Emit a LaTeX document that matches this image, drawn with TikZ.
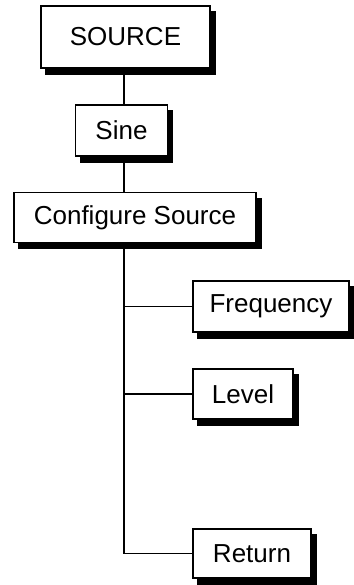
\documentclass[tikz,border=0pt]{standalone}
\usepackage{fontspec}
\setmainfont{Liberation Sans}
\usetikzlibrary{positioning, shadows}
\tikzset{
  menubox/.style={rectangle, draw=black, fill=white, line width=1.6pt,
    inner sep=0pt, font=\fontsize{26}{30}\selectfont,
    copy shadow={shadow xshift=5pt, shadow yshift=-6pt, fill=black, draw=black}},
  line/.style={line width=1.6pt, color=black}
}

\begin{document}
\begin{tikzpicture}[x=1pt, y=1pt]
    \useasboundingbox (0,0) rectangle (353,-585);

    % Menu levels
    \node[menubox, minimum width=169pt, minimum height=62pt] (source) at (125.5,-37) {SOURCE};
    \node[menubox, minimum width=92pt, minimum height=51pt] (sine) at (121.5,-130.5) {Sine};
    \node[menubox, minimum width=242pt, minimum height=50pt] (config) at (135,-217.5) {Configure Source};

    % Submenu items
    \node[menubox, minimum width=156pt, minimum height=51pt] (freq) at (271,-306.5) {Frequency};
    \node[menubox, minimum width=100pt, minimum height=50pt] (level) at (243,-394) {Level};
    \node[menubox, minimum width=118pt, minimum height=49pt] (ret) at (252,-553.5) {Return};

    % Trunk
    \coordinate (trunk) at (124,-553.5);
    \draw[line] (source.south -| trunk) -- (sine.north -| trunk);
    \draw[line] (sine.south -| trunk) -- (config.north -| trunk);
    \draw[line] (config.south -| trunk) -- (trunk) -- (ret.west);

    % Branches
    \draw[line] (freq.west -| trunk) -- (freq.west);
    \draw[line] (level.west -| trunk) -- (level.west);
  \end{tikzpicture}
\end{document}
